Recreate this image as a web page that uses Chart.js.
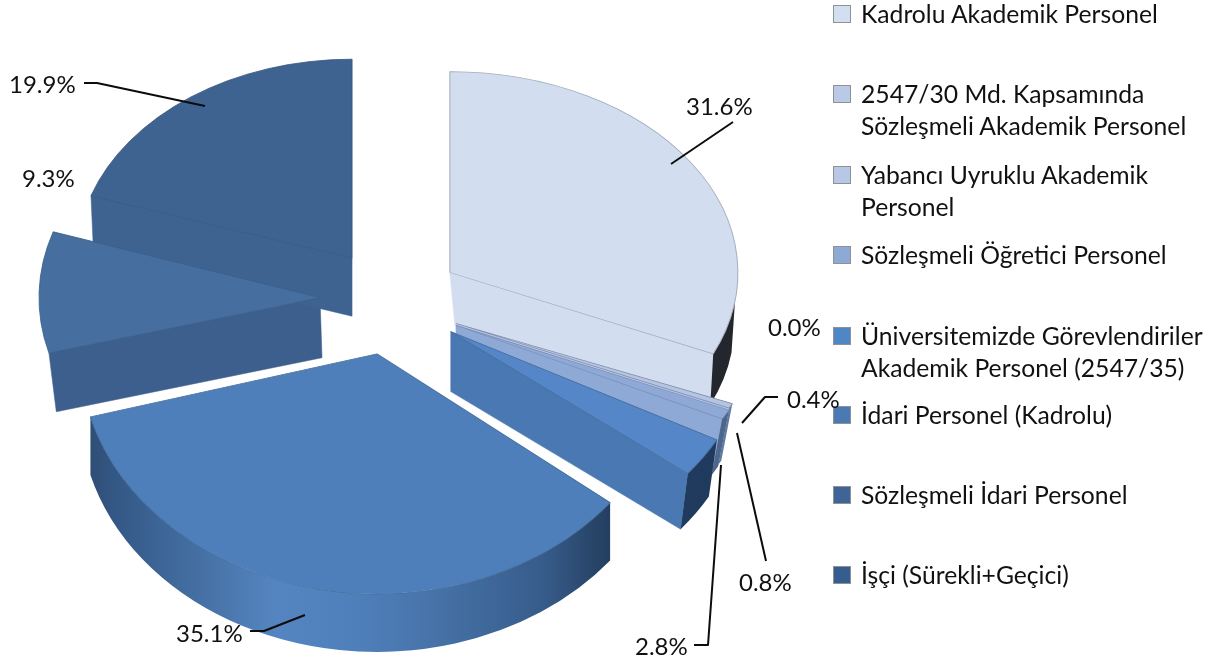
<!DOCTYPE html>
<html><head><meta charset="utf-8">
<style>
html,body{margin:0;padding:0;background:#fff;width:1220px;height:662px;overflow:hidden}
#wrap{position:relative;width:1220px;height:662px;font-family:Lato,"Open Sans",sans-serif;color:#111;font-size:24.7px}
canvas{position:absolute;left:0;top:0}
.t{position:absolute;white-space:nowrap;line-height:32px}
.p{font-size:24px}
.sw{position:absolute;width:18px;height:18px;box-sizing:border-box;border:1.5px solid #8e9296}
</style>
<script src="https://cdn.jsdelivr.net/npm/chart.js@4/dist/chart.umd.min.js"></script>
</head><body><div id="wrap"><canvas id="c" width="1220" height="662"></canvas></div>
<script>
const categories=[
 ["Kadrolu Akademik Personel"],
 ["2547/30 Md. Kapsamında","Sözleşmeli Akademik Personel"],
 ["Yabancı Uyruklu Akademik","Personel"],
 ["Sözleşmeli Öğretici Personel"],
 ["Üniversitemizde Görevlendiriler","Akademik Personel (2547/35)"],
 ["İdari Personel (Kadrolu)"],
 ["Sözleşmeli İdari Personel"],
 ["İşçi (Sürekli+Geçici)"]];
const values=[31.6,0.0,0.4,0.8,2.8,35.1,9.3,19.9];

// Presentation only
const topColors=["#d2ddf0","#b9c9e6","#b4c5e4","#8fa9d6","#5587c8","#4f7fba","#466f9f","#3f6391"];
const edgeColors=["#a4adbc","#8f9bb0","#7f8ca6","#7a8fb8","#47709f","#44709f","#3b5f8c","#35557e"];
const wallColors=["#d2ddf0","#b9c9e6","#b4c5e4","#8fa9d6","#4a78b2","#4a78b2","#3d5f8e","#3f6391"];
const swatchColors=["#d3dff1","#b9c9e6","#b7c7e5","#8fa9d6","#4f86c6","#4a79b3","#3f6598","#365d8f"];
const rimStops=[
 [[0,"#2a2e36"],[1,"#23262c"]],
 [[0,"#8fa5cc"],[1,"#8fa5cc"]],
 [[0,"#8fa5cc"],[1,"#5f779f"]],
 [[0,"#7f9ac8"],[1,"#4a6286"]],
 [[0,"#24405f"],[1,"#1f3a5c"]],
 [[0,"#2d4a70"],[0.07,"#355a88"],[0.33,"#5585c0"],[0.46,"#5080bb"],[0.6,"#4672a8"],[0.78,"#375c8a"],[0.9,"#223c5c"],[1,"#223c5c"]],
 [[0,"#3d5f8e"],[1,"#3d5f8e"]],
 [[0,"#2a3f5e"],[1,"#2a3f5e"]]];
const explode=[75,75,75,75,75,75,67,75];
const ellipseX=[288,302,302,302,302,297,281,275];
const ellipseY=[201,198,198,198,229,240,210,199];
const depths=[53,60,60,60,60,58,60,58];
const bottomScale=[0.97,0.96,0.96,0.96,0.97,1,0.98,0.99];
const leanX=[5,0,0,0,0,0,2,0];
const rimFromDeg=[8,0,0,0,0,0,181,0];
const nudgeX=[0,1,1,2,1,5,0,9];
const nudgeY=[1,0,0,0,1,0,-2,1];
const tilt=0.72;
const pctLabels=[[686,106],[768,327],[787,399],[739,582],[635,646],[176,633],[22,178],[9,84]];
const leaders=[
 [[671,164],[733,122]],null,
 [[742,423],[765,397],[778,397]],
 [[737,433],[766,561]],
 [[694,645],[708,645],[721,465]],
 [[250,631],[264,631],[305,615]],null,
 [[84,83],[97,83],[205,106]]];
const legendRows=[14,94,175,255,336,415,495,575];

const pie3d={id:'pie3d',
 beforeDatasetDraw(chart,args){
  const ctx=chart.ctx, arcs=chart.getDatasetMeta(args.index).data;
  const geo=arcs.map((el,i)=>{
   const p=el.getProps(['x','y','startAngle','endAngle','outerRadius'],true);
   const m=(p.startAngle+p.endAngle)/2, off=explode[i];
   return {el,p,ax:p.x+Math.cos(m)*off+nudgeX[i],ay:p.y+Math.sin(m)*off*tilt+nudgeY[i],rx:ellipseX[i],ry:ellipseY[i],d:depths[i]};
  });
  geo.forEach((g,i)=>{
   if(!values[i])return;
   const {p,ax,ay,rx,ry,d}=g, s=bottomScale[i], bx=ax+leanX[i], by=ay+d;
   const face=a=>{ctx.beginPath();ctx.moveTo(ax,ay);ctx.lineTo(ax+rx*Math.cos(a),ay+ry*Math.sin(a));
     ctx.lineTo(bx+rx*s*Math.cos(a),by+ry*s*Math.sin(a));ctx.lineTo(bx,by);ctx.closePath();
     ctx.fillStyle=wallColors[i];ctx.fill();ctx.strokeStyle=wallColors[i];ctx.lineWidth=.5;ctx.stroke();};
   if(Math.cos(p.startAngle)<-1e-6)face(p.startAngle);
   if(Math.cos(p.endAngle)>1e-6)face(p.endAngle);
   const a0=Math.max(p.startAngle,rimFromDeg[i]*Math.PI/180),a1=Math.min(p.endAngle,Math.PI);
   if(a1>a0){
    const gr=ctx.createLinearGradient(ax-rx,0,ax+rx,0);
    rimStops[i].forEach(c=>gr.addColorStop(c[0],c[1]));
    ctx.beginPath();ctx.ellipse(ax,ay,rx,ry,0,a0,a1);ctx.ellipse(bx,by,rx*s,ry*s,0,a1,a0,true);ctx.closePath();
    ctx.fillStyle=gr;ctx.fill();
   }
  });
  geo.forEach(g=>{
   ctx.save();
   ctx.translate(g.ax,g.ay);
   ctx.scale(g.rx/g.p.outerRadius,g.ry/g.p.outerRadius);
   ctx.translate(-g.p.x,-g.p.y);
   g.el.draw(ctx);
   ctx.restore();
  });
  return false;
 },
 afterDatasetsDraw(chart){
  const ctx=chart.ctx;ctx.save();ctx.strokeStyle="#0c0c0c";ctx.lineWidth=2;ctx.lineJoin='round';
  leaders.forEach(l=>{if(!l)return;ctx.beginPath();l.forEach((q,i)=>i?ctx.lineTo(q[0],q[1]):ctx.moveTo(q[0],q[1]));ctx.stroke();});
  ctx.restore();
 }};

new Chart(document.getElementById('c'),{type:'pie',
 data:{labels:categories.map(c=>c.join(' ')),datasets:[{data:values,backgroundColor:topColors,borderColor:edgeColors,borderWidth:1}]},
 options:{responsive:false,animation:false,radius:285,rotation:0,
  layout:{padding:{left:0,top:0,right:446,bottom:60}},
  plugins:{legend:{display:false},tooltip:{enabled:false}}},
 plugins:[pie3d]});

const wrap=document.getElementById('wrap');
function addText(s,x,cy,cls){const d=document.createElement('div');d.className='t'+(cls?' '+cls:'');d.textContent=s;d.style.left=x+'px';d.style.top=(cy-16)+'px';wrap.appendChild(d);}
categories.forEach((lines,i)=>{
 const s=document.createElement('div');s.className='sw';s.style.left='833px';s.style.top=(legendRows[i]-9)+'px';s.style.background=swatchColors[i];wrap.appendChild(s);
 lines.forEach((t,j)=>addText(t,861,legendRows[i]+j*32));
});
values.forEach((v,i)=>addText(v.toFixed(1)+'%',pctLabels[i][0],pctLabels[i][1],'p'));
</script></body></html>
